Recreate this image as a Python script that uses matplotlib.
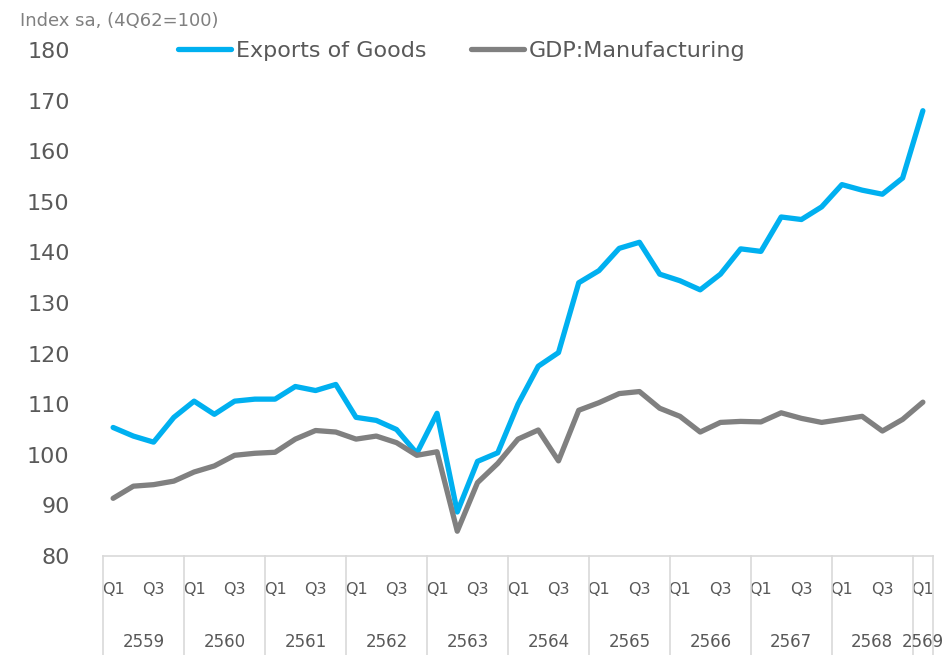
import matplotlib
matplotlib.use("Agg")
from matplotlib import pyplot as plt
from matplotlib.lines import Line2D

# Quarterly index, 2559 Q1 .. 2569 Q1
years = ["2559", "2560", "2561", "2562", "2563", "2564", "2565", "2566", "2567", "2568", "2569"]
quarters = ["Q1", "Q2", "Q3", "Q4"]

exports = [105.4, 103.7, 102.5, 107.4, 110.6, 108.0, 110.6, 111.0, 111.0, 113.5,
           112.7, 113.9, 107.4, 106.8, 105.0, 100.3, 108.2, 88.7, 98.7, 100.4,
           110.0, 117.5, 120.2, 134.0, 136.4, 140.8, 142.0, 135.7, 134.4, 132.6,
           135.7, 140.7, 140.2, 147.0, 146.5, 149.0, 153.4, 152.3, 151.5, 154.7, 168.0]
gdp_mfg = [91.4, 93.8, 94.1, 94.8, 96.6, 97.8, 99.9, 100.3, 100.5, 103.1,
           104.8, 104.5, 103.1, 103.7, 102.4, 99.9, 100.6, 84.9, 94.5, 98.3,
           103.1, 104.9, 98.8, 108.8, 110.3, 112.1, 112.5, 109.2, 107.6, 104.5,
           106.4, 106.6, 106.5, 108.3, 107.2, 106.4, 107.0, 107.6, 104.7, 107.0, 110.4]

n = len(exports)
x = list(range(n))
qlabels = [quarters[i % 4] if i % 2 == 0 else "" for i in range(n)]

txt = "#595959"
sep = "#d9d9d9"

fig = plt.figure(figsize=(9.49, 6.55), dpi=100)
ax = fig.add_axes([103 / 949, 1 - 556 / 655, (933 - 103) / 949, (556 - 50) / 655])

ax.plot(x, exports, color="#00B0F0", lw=3.8, solid_capstyle="round", label="Exports of Goods")
ax.plot(x, gdp_mfg, color="#808080", lw=3.8, solid_capstyle="round", label="GDP:Manufacturing")

ax.set_xlim(-0.5, n - 0.5)
ax.set_ylim(80, 180)
ax.set_yticks(range(80, 181, 10))
ax.tick_params(axis="y", length=0, pad=24, labelsize=16, labelcolor=txt)
ax.set_xticks(x)
ax.set_xticklabels(qlabels)
ax.tick_params(axis="x", length=0, pad=19, labelsize=11.5, labelcolor=txt)

for s in ["top", "right", "left"]:
    ax.spines[s].set_visible(False)
ax.spines["bottom"].set_color(sep)
ax.spines["bottom"].set_linewidth(1.2)

# year separators and labels
trans = ax.get_xaxis_transform()
bounds = [-0.5 + 4 * k for k in range(len(years))] + [n - 0.5]
for b in bounds:
    ax.add_line(Line2D([b, b], [0, -0.21], transform=trans, color=sep, lw=1.2, clip_on=False))
for k, yr in enumerate(years):
    left = bounds[k]
    right = bounds[k + 1]
    ax.text((left + right) / 2, -0.17, yr, transform=trans, ha="center", va="center",
            fontsize=12, color=txt)

fig.text(20 / 949, 1 - 21 / 655, "Index sa, (4Q62=100)", fontsize=13, color="#808080",
         va="center", ha="left")

leg = ax.legend(loc="upper left", bbox_to_anchor=(0.066, 1.058), ncol=2, frameon=False,
                fontsize=16, handlelength=2.4, handletextpad=0.2, columnspacing=2.0)
for t in leg.get_texts():
    t.set_color(txt)

fig.savefig("out.png", dpi=100)
